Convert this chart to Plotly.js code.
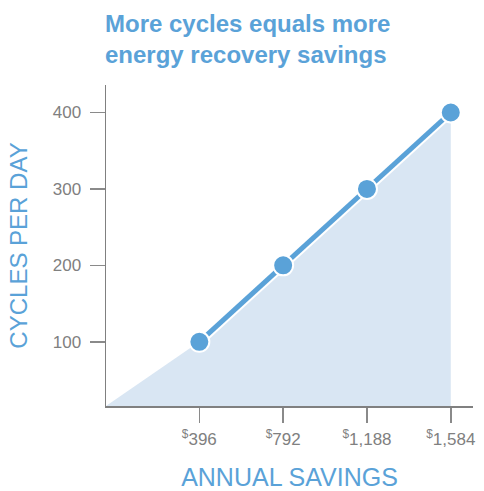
<!DOCTYPE html>
<html>
<head>
<meta charset="utf-8">
<script src="https://cdn.plot.ly/plotly-3.0.1.min.js"></script>
<style>html,body{margin:0;padding:0;background:#fff;}#chart{width:484px;height:491px;}</style>
</head>
<body>
<div id="chart"></div>
<script>
// Data
const savings = [396, 792, 1188, 1584];          // annual savings ($)
const cycles = [100, 200, 300, 400];             // cycles per day
const savingsLabels = ["<sup>$</sup>396", "<sup>$</sup>792", "<sup>$</sup>1,188", "<sup>$</sup>1,584"];
const cycleTicks = [100, 200, 300, 400];

const xRange = [-45, 1689];
const yRange = [16, 436];

const blue = "#5aa2d8";
const fillBlue = "#d9e6f3";
const gray = "#808080";

const traces = [
  {
    x: [xRange[0]].concat(savings),
    y: [yRange[0]].concat(cycles),
    type: "scatter", mode: "lines",
    fill: "tozeroy", fillcolor: fillBlue,
    line: {width: 0, color: fillBlue},
    hoverinfo: "skip", showlegend: false
  },
  {
    x: savings, y: cycles, type: "scatter", mode: "lines",
    line: {width: 9, color: "#ffffff"},
    hoverinfo: "skip", showlegend: false
  },
  {
    x: savings, y: cycles, type: "scatter", mode: "lines+markers",
    line: {width: 5, color: blue},
    marker: {size: 20, color: blue, line: {width: 2, color: "#ffffff"}},
    showlegend: false
  }
];

const layout = {
  width: 484, height: 491,
  paper_bgcolor: "#ffffff", plot_bgcolor: "#ffffff",
  margin: {l: 106, r: 11, t: 85, b: 85},
  font: {family: "Liberation Sans, Arial, sans-serif", color: gray},
  title: {
    text: "<b>More cycles equals more<br>energy recovery savings</b>",
    font: {size: 24, color: blue, family: "Liberation Sans, Arial, sans-serif"},
    x: 105/484, xanchor: "left", xref: "container",
    y: 1 - 32/491, yanchor: "top", yref: "container"
  },
  xaxis: {
    range: xRange,
    tickmode: "array", tickvals: savings, ticktext: savingsLabels,
    ticks: "outside", ticklen: 15, tickwidth: 1.5, tickcolor: "#8a8a8a",
    showline: true, linecolor: "#808080", linewidth: 1.5,
    showgrid: false, zeroline: false,
    tickfont: {size: 17, color: gray},
    ticklabelstandoff: 2,
    title: {text: "ANNUAL SAVINGS", font: {size: 25, color: blue}, standoff: 24},
    fixedrange: true
  },
  yaxis: {
    range: yRange,
    tickmode: "array", tickvals: cycleTicks, ticktext: cycleTicks.map(String),
    ticks: "outside", ticklen: 15, tickwidth: 1.5, tickcolor: "#8a8a8a",
    showline: true, linecolor: "#808080", linewidth: 1.5,
    showgrid: false, zeroline: false,
    tickfont: {size: 17, color: gray},
    ticklabelstandoff: 5,
    title: {text: "CYCLES PER DAY", font: {size: 24, color: blue}, standoff: 18},
    fixedrange: true
  }
};

Plotly.newPlot("chart", traces, layout, {displayModeBar: false, staticPlot: true});
</script>
</body>
</html>
